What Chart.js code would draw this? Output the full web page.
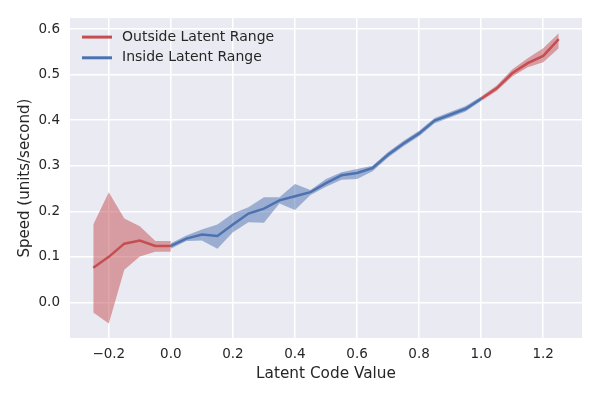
<!DOCTYPE html>
<html>
<head>
<meta charset="utf-8">
<script src="https://cdn.jsdelivr.net/npm/chart.js@4"></script>
<style>
html,body{margin:0;padding:0;background:#fff;}
#wrap{width:600px;height:400px;position:relative;}
</style>
</head>
<body>
<div id="wrap"><canvas id="c" width="600" height="400"></canvas></div>
<script>
// ---- data ----
const outsideLowX     = [-0.25, -0.20, -0.15, -0.10, -0.05, 0.00];
const outsideLowMean  = [0.076, 0.100, 0.129, 0.136, 0.124, 0.124];
const outsideLowUpper = [0.171, 0.242, 0.184, 0.167, 0.135, 0.135];
const outsideLowLower = [-0.022, -0.046, 0.072, 0.101, 0.111, 0.111];

const insideX     = [0.00, 0.05, 0.10, 0.15, 0.20, 0.25, 0.30, 0.35, 0.40, 0.45, 0.50,
                     0.55, 0.60, 0.65, 0.70, 0.75, 0.80, 0.85, 0.90, 0.95, 1.00];
const insideMean  = [0.124, 0.140, 0.149, 0.146, 0.171, 0.195, 0.206, 0.224, 0.233, 0.242, 0.262,
                     0.279, 0.284, 0.295, 0.324, 0.349, 0.371, 0.399, 0.412, 0.425, 0.447];
const insideUpper = [0.130, 0.147, 0.160, 0.171, 0.195, 0.209, 0.231, 0.231, 0.260, 0.247, 0.271,
                     0.286, 0.293, 0.300, 0.330, 0.355, 0.377, 0.405, 0.418, 0.431, 0.452];
const insideLower = [0.118, 0.135, 0.136, 0.118, 0.154, 0.176, 0.175, 0.217, 0.203, 0.236, 0.254,
                     0.269, 0.271, 0.288, 0.318, 0.343, 0.365, 0.393, 0.406, 0.419, 0.442];

const outsideHighX     = [1.00, 1.05, 1.10, 1.15, 1.20, 1.25];
const outsideHighMean  = [0.447, 0.470, 0.503, 0.525, 0.541, 0.578];
const outsideHighUpper = [0.452, 0.476, 0.511, 0.536, 0.558, 0.591];
const outsideHighLower = [0.442, 0.464, 0.496, 0.516, 0.527, 0.558];

const xTickValues = [-0.2, 0.0, 0.2, 0.4, 0.6, 0.8, 1.0, 1.2];
const yTickValues = [0.0, 0.1, 0.2, 0.3, 0.4, 0.5, 0.6];

const seriesLabels = ['Outside Latent Range', 'Inside Latent Range'];
const xAxisTitle = 'Latent Code Value';
const yAxisTitle = 'Speed (units/second)';

// ---- styling ----
const RED = '#C44E52', BLUE = '#4C72B0';
const RED_BAND = 'rgba(196,78,82,0.5)', BLUE_BAND = 'rgba(76,114,176,0.5)';
const TEXT = '#262626';
const FONT = '"DejaVu Sans", sans-serif';

const pts = (xs, ys) => xs.map((x, i) => ({x: x, y: ys[i]}));

function line(label, xs, ys, color, order, inLegend) {
  return {label: label, data: pts(xs, ys), borderColor: color, backgroundColor: color,
          borderWidth: 2.5, pointRadius: 0, fill: false, tension: 0, order: order, inLegend: inLegend};
}
function bandLower(xs, ys, order) {
  return {label: '', data: pts(xs, ys), borderWidth: 0, borderColor: 'rgba(0,0,0,0)',
          pointRadius: 0, fill: false, order: order};
}
function bandUpper(xs, ys, color, order) {
  return {label: '', data: pts(xs, ys), borderWidth: 0, borderColor: 'rgba(0,0,0,0)',
          backgroundColor: color, pointRadius: 0, fill: '-1', order: order};
}

const datasets = [
  bandLower(outsideLowX, outsideLowLower, 10),
  bandUpper(outsideLowX, outsideLowUpper, RED_BAND, 10),
  bandLower(outsideHighX, outsideHighLower, 10),
  bandUpper(outsideHighX, outsideHighUpper, RED_BAND, 10),
  bandLower(insideX, insideLower, 9),
  bandUpper(insideX, insideUpper, BLUE_BAND, 9),
  line(seriesLabels[0], outsideLowX, outsideLowMean, RED, 2, true),
  line(seriesLabels[0], outsideHighX, outsideHighMean, RED, 2, false),
  line(seriesLabels[1], insideX, insideMean, BLUE, 1, true)
];

const bgPlugin = {
  id: 'bg',
  beforeDraw(chart) {
    const {ctx, chartArea: a} = chart;
    ctx.save();
    ctx.fillStyle = '#ffffff';
    ctx.fillRect(0, 0, chart.width, chart.height);
    ctx.fillStyle = '#EAEAF2';
    ctx.fillRect(a.left, a.top, a.right - a.left, a.bottom - a.top);
    ctx.restore();
  }
};

// legend drawn inside the plot area, upper left (like matplotlib's legend)
const innerLegend = {
  id: 'innerLegend',
  afterDraw(chart) {
    const {ctx, chartArea: a} = chart;
    const items = chart.data.datasets.filter(d => d.inLegend);
    ctx.save();
    ctx.font = '14px ' + FONT;
    ctx.textBaseline = 'middle';
    ctx.textAlign = 'left';
    items.forEach((d, i) => {
      const y = a.top + 19 + i * 20.7;
      ctx.strokeStyle = d.borderColor;
      ctx.lineWidth = 3;
      ctx.beginPath();
      ctx.moveTo(a.left + 12, y);
      ctx.lineTo(a.left + 42, y);
      ctx.stroke();
      ctx.fillStyle = TEXT;
      ctx.fillText(d.label, a.left + 52, y);
    });
    ctx.restore();
  }
};

const fmt = v => (v < 0 ? '\u2212' : '') + Math.abs(v).toFixed(1);

new Chart(document.getElementById('c'), {
  type: 'line',
  data: {datasets: datasets},
  plugins: [bgPlugin, innerLegend],
  options: {
    responsive: false,
    animation: false,
    devicePixelRatio: 1,
    layout: {padding: {left: 0, top: 18, right: 18, bottom: 0}},
    plugins: {
      tooltip: {enabled: false},
      legend: {display: false}
    },
    scales: {
      x: {
        type: 'linear',
        min: -0.325, max: 1.325,
        afterBuildTicks: s => { s.ticks = xTickValues.map(v => ({value: v})); },
        afterFit: s => { s.height = 62; },
        grid: {color: '#ffffff', lineWidth: 1.5, drawTicks: false},
        border: {display: false},
        ticks: {color: TEXT, font: {family: FONT, size: 13.5}, padding: 8, callback: v => fmt(v), maxRotation: 0},
        title: {display: true, text: xAxisTitle, color: TEXT, font: {family: FONT, size: 15.3}, padding: {top: 4, bottom: 17}}
      },
      y: {
        type: 'linear',
        min: -0.078, max: 0.624,
        afterBuildTicks: s => { s.ticks = yTickValues.map(v => ({value: v})); },
        afterFit: s => { s.width = 70; },
        grid: {color: '#ffffff', lineWidth: 1.5, drawTicks: false},
        border: {display: false},
        ticks: {color: TEXT, font: {family: FONT, size: 13.5}, padding: 10, callback: v => fmt(v)},
        title: {display: true, text: yAxisTitle, color: TEXT, font: {family: FONT, size: 15}, padding: {top: 16, bottom: 4}}
      }
    }
  }
});
</script>
</body>
</html>
